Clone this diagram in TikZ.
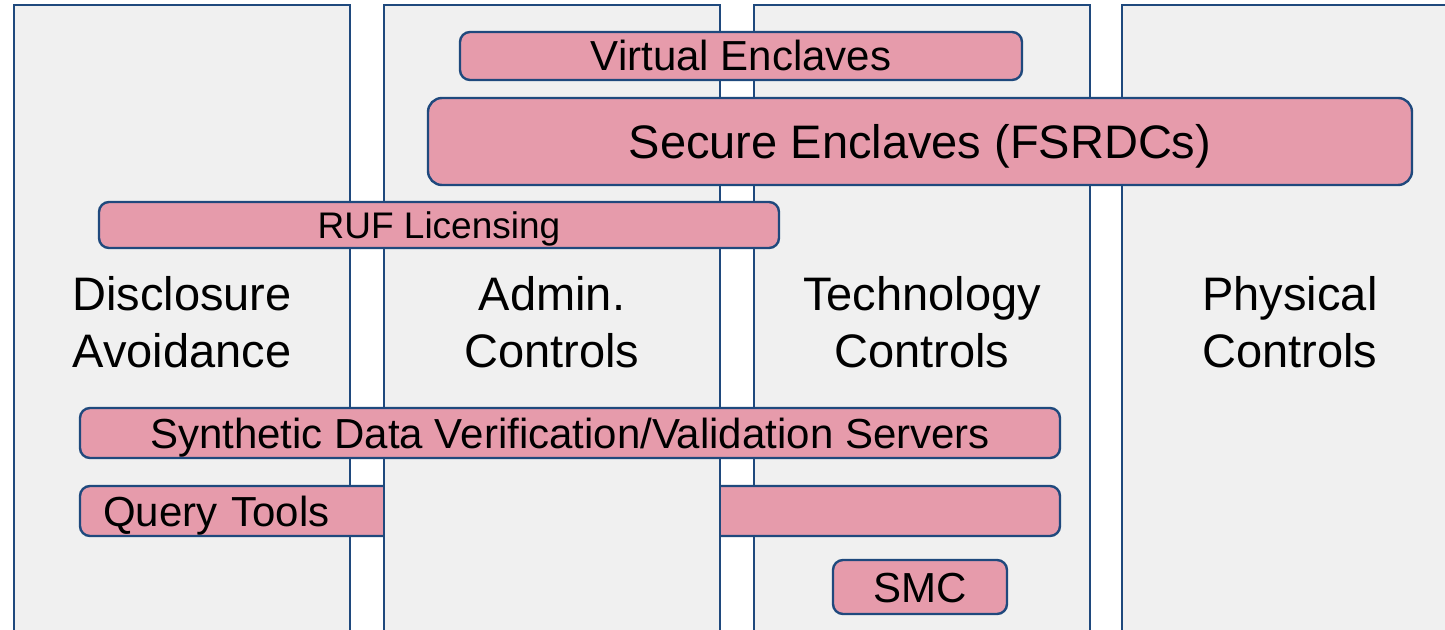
\documentclass[tikz,border=0pt]{standalone}
\usepackage{fontspec}
\setmainfont{Liberation Sans}
\usetikzlibrary{positioning}
\usepackage{xcolor}
\definecolor{frameblue}{RGB}{31,73,125}
\definecolor{colgray}{RGB}{240,240,240}
\definecolor{barpink}{RGB}{230,155,171}

\begin{document}
\begin{tikzpicture}[
			x=0.5pt, y=-0.5pt,
			pillar/.style={rectangle, draw=frameblue, line width=1.2pt, fill=colgray, minimum width=168pt, minimum height=317pt, inner sep=0pt, align=center, font=\fontsize{23.5}{28.5}\selectfont},
			bar/.style={rectangle, rounded corners=5pt, draw=frameblue, line width=1.2pt, fill=barpink, inner sep=0pt, text height=15pt, text depth=0pt, font=\fontsize{21}{24}\selectfont}
			]
			
			\clip (0,0) rectangle (1445,630);
			\fill[white] (0,0) rectangle (1445,630);
			
			% Columns (Admin. Controls comes later, over the query bar)
			\node[pillar] (disclosure) at (182,322) {Disclosure\\Avoidance};
			\node[pillar] (tech) at (922,322) {Technology\\Controls};
			\node[pillar] (physical) at (1290,322) {Physical\\Controls};
			
			% Query bar: hidden behind the admin column
			\node[bar, minimum width=490pt, minimum height=25pt, inner xsep=11.5pt, text width=467pt, align=left] (query) at (570,511) {Query Tools};
			
			\node[pillar, right=15.8pt of disclosure] (admin) {Admin.\\Controls};
			
			% Bars
			\node[bar, minimum width=281pt, minimum height=24pt] (virtual) at (741,56) {Virtual Enclaves};
			\node[bar, rounded corners=7pt, minimum width=492pt, minimum height=43.5pt, text height=16.8pt, font=\fontsize{23.5}{26}\selectfont] (secure) at (920,141.5) {Secure Enclaves (FSRDCs)};
			\node[bar, minimum width=340pt, minimum height=23pt, text height=13.2pt, font=\fontsize{18.5}{22}\selectfont] (ruf) at (439,225) {RUF Licensing};
			\node[bar, minimum width=490pt, minimum height=25pt] (synthetic) at (570,433) {Synthetic Data Verification/Validation Servers};
			\node[bar, minimum width=87pt, minimum height=27pt] (smc) at (920,587) {SMC};
			
		\end{tikzpicture}
\end{document}
